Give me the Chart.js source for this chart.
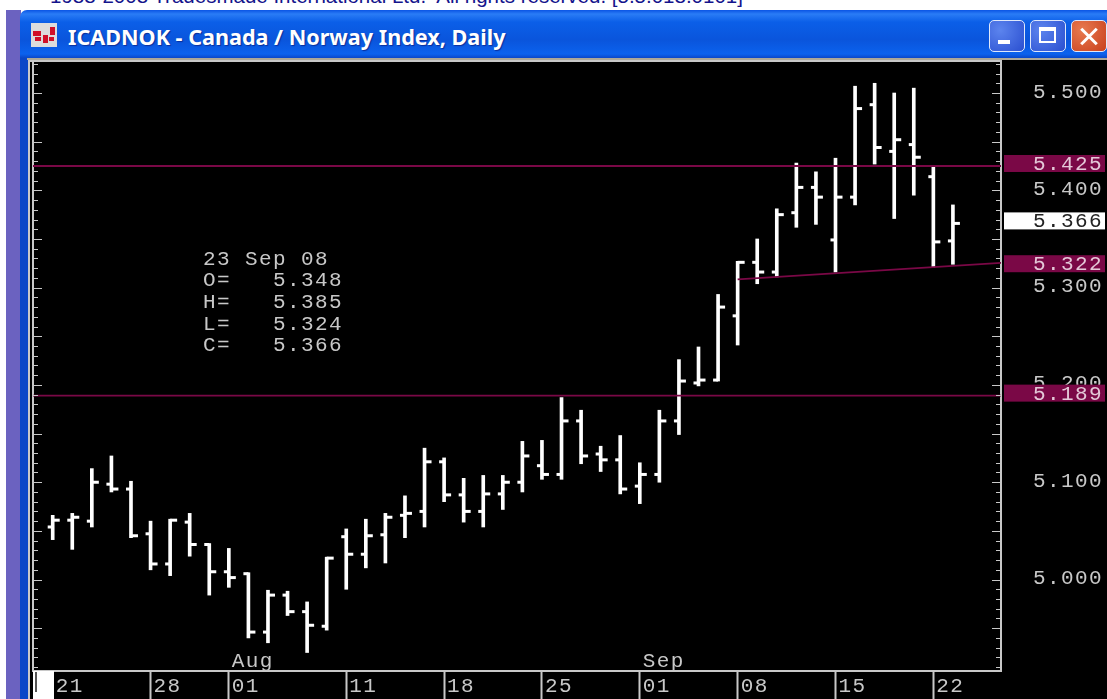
<!DOCTYPE html>
<html>
<head>
<meta charset="utf-8">
<title>ICADNOK - Canada / Norway Index, Daily</title>
<script src="https://cdn.jsdelivr.net/npm/chart.js@4"></script>
<style>
  html, body { margin: 0; padding: 0; background: #fff; width: 1107px; height: 699px; overflow: hidden; }
  div, canvas { position: absolute; }
  #copyright { left: 50px; top: -16px; font: 20.5px "Liberation Sans", sans-serif; color: #14148c; white-space: pre; }
  #strip { left: 6px; top: 10px; width: 15px; height: 689px; background: #6b62c0; }
  #win { left: 20px; top: 10px; width: 1087px; height: 689px; border-radius: 7px 0 0 0;
         background: linear-gradient(#0a54e4 0, #2a7cf6 4px, #0b5fe8 12px, #0a55dc 30px, #0b62ee 44px, #0a47c8 48px, #0a47c8 100%); }
  #edge { left: 27px; top: 58px; width: 1080px; height: 2px; background: #aca899; }
  #frameLeft { left: 28px; top: 60px; width: 2px; height: 639px; background: #c8c8c8; }
  #black { left: 30px; top: 60px; width: 1077px; height: 639px; background: #000; }
  #winTitle { left: 68px; top: 22px; font: bold 21.6px "Noto Sans", sans-serif; color: #fff; white-space: pre;
              text-shadow: 1px 1px 1px #0a2f9c; }
  #icon { left: 31px; top: 23px; width: 26px; height: 24px; background: #dcdcdc; }
  .red { background: #d01028; }
  .btn { top: 20px; height: 30px; border: 1px solid #dfe8fb; border-radius: 5px; background: radial-gradient(circle at 30% 30%, #5c84ee, #2a4fd0); }
  #close { background: radial-gradient(circle at 30% 30%, #e87a50, #c8401c); }
  .glyph { background: #fff; }
  #cursorBox { left: 33px; top: 671px; width: 21px; height: 28px; background: #fff; }
  #cursorBar { left: 35px; top: 672px; width: 2px; height: 20px; background: #555; }
</style>
</head>
<body>
<div id="copyright">1988-2008 Tradesmade International Ltd.  All rights reserved. [5.5.018.0101]</div>
<div id="strip"></div>
<div id="win"></div>
<div id="edge"></div>
<div id="icon">
  <div class="red" style="left:2px;top:8px;width:8px;height:5px"></div>
  <div class="red" style="left:4px;top:14px;width:6px;height:4px"></div>
  <div class="red" style="left:12px;top:12px;width:5px;height:8px"></div>
  <div class="red" style="left:19px;top:4px;width:5px;height:8px"></div>
  <div class="red" style="left:18px;top:14px;width:5px;height:4px"></div>
</div>
<div id="winTitle">ICADNOK - Canada / Norway Index, Daily</div>
<div class="btn" style="left:989px;width:34px"><div class="glyph" style="left:8px;top:19px;width:12px;height:4px"></div></div>
<div class="btn" style="left:1030px;width:34px"><div style="left:8px;top:6px;width:17px;height:16px;border:2px solid #fff;border-top-width:4px;box-sizing:border-box"></div></div>
<div class="btn" id="close" style="left:1071px;width:34px">
  <div class="glyph" style="left:6px;top:14px;width:22px;height:3px;transform:rotate(45deg)"></div>
  <div class="glyph" style="left:6px;top:14px;width:22px;height:3px;transform:rotate(-45deg)"></div>
</div>
<div id="black"></div>
<div id="frameLeft"></div>
<canvas id="chart" width="1077" height="639" style="left:30px;top:60px"></canvas>
<div id="cursorBox"></div>
<div id="cursorBar"></div>

<script>
// Daily bars, 21 Jul to 23 Sep 2008
const opens = [5.054,5.061,5.060,5.098,5.093,5.047,5.016,5.059,5.036,5.008,5.006,4.946,4.984,4.967,4.952,5.044,5.026,5.046,5.066,5.070,5.121,5.087,5.070,5.088,5.100,5.117,5.108,5.163,5.129,5.123,5.096,5.108,5.163,5.202,5.205,5.271,5.326,5.316,5.377,5.403,5.349,5.393,5.488,5.440,5.447,5.414,5.348];
const highs = [5.066,5.068,5.114,5.127,5.101,5.060,5.062,5.068,5.037,5.032,5.007,4.989,4.988,4.977,5.023,5.052,5.062,5.068,5.086,5.135,5.125,5.104,5.107,5.107,5.142,5.143,5.187,5.174,5.137,5.148,5.120,5.174,5.226,5.239,5.293,5.327,5.350,5.381,5.428,5.419,5.433,5.507,5.510,5.500,5.505,5.424,5.385];
const lows = [5.041,5.031,5.054,5.090,5.043,5.010,5.004,5.024,4.984,4.992,4.940,4.935,4.963,4.925,4.948,4.990,5.012,5.017,5.043,5.054,5.080,5.059,5.054,5.072,5.090,5.103,5.103,5.119,5.111,5.088,5.078,5.100,5.149,5.199,5.204,5.241,5.304,5.311,5.362,5.365,5.316,5.385,5.427,5.371,5.395,5.321,5.324];
const closes = [5.061,5.064,5.100,5.093,5.045,5.016,5.061,5.036,5.008,5.002,4.946,4.984,4.967,4.953,5.022,5.026,5.045,5.064,5.068,5.121,5.087,5.070,5.088,5.100,5.127,5.108,5.163,5.127,5.123,5.093,5.108,5.163,5.204,5.205,5.280,5.326,5.316,5.375,5.403,5.393,5.393,5.484,5.444,5.452,5.434,5.347,5.366];

const priceTicks = [5.0, 5.1, 5.2, 5.3, 5.4, 5.5];
const dayTickPos = [0, 5, 9, 15, 20, 25, 30, 35, 40, 45];
const dayTickLabels = ['21', '28', '01', '11', '18', '25', '01', '08', '15', '22'];
const monthPos = [9, 30];
const monthLabels = ['Aug', 'Sep'];

const levels = [5.425, 5.189];
const levelTags = [5.425, 5.322, 5.189];
const lastClose = 5.366;
const trendX = [35, 48.457];
const trendY = [5.3085, 5.3255];

const readoutHead = '23 Sep 08';
const readoutKeys = ['O=', 'H=', 'L=', 'C='];
const readoutVals = ['5.348', '5.385', '5.324', '5.366'];

const xMin = -1.007, xMax = 48.457, yMin = 4.906, yMax = 5.5329;
const MONO = '"Liberation Mono", monospace';
const LIGHT = '#c8c8c8';
const MAROON = '#7a0846';
const PITCH = '1.4px';

// the layout adds room for overflowing labels, this window has a fixed plot box
function noPadding(s) {
  s.paddingTop = s.paddingBottom = s.paddingLeft = s.paddingRight = 0;
}

// the terminal font is wide, canvas letterSpacing gets it to the 14px pitch
const spacing = { id: 'spacing',
  beforeDraw(chart) { chart.ctx.letterSpacing = PITCH; }
};

// inner tick marks on both sides, top frame line, tags and the readout
const decorations = { id: 'decorations',
  afterDraw(chart) {
    const ctx = chart.ctx, y = chart.scales.y, x = chart.scales.x, a = chart.chartArea;
    ctx.save();
    ctx.strokeStyle = LIGHT;
    ctx.lineWidth = 1;
    ctx.beginPath();
    for (let i = 491; i <= 553; i++) {
      const py = Math.round(y.getPixelForValue(i / 100)) + 0.5;
      const len = i % 5 === 0 ? 9 : 5;
      ctx.moveTo(a.left, py); ctx.lineTo(a.left + len, py);
      ctx.moveTo(a.right - len, py); ctx.lineTo(a.right, py);
    }
    ctx.stroke();
    ctx.fillStyle = LIGHT;
    ctx.fillRect(0, a.top - 1, a.right + 1, 2);

    ctx.font = '21px ' + MONO;
    ctx.letterSpacing = PITCH;
    ctx.textBaseline = 'middle';
    ctx.textAlign = 'left';

    monthLabels.forEach((m, i) => {
      ctx.fillText(m, x.getPixelForValue(monthPos[i]) + 3, a.bottom - 10);
    });

    levelTags.forEach(v => {
      const py = y.getPixelForValue(v) - 2.5;
      ctx.fillStyle = MAROON;
      ctx.fillRect(a.right + 3, py - 8.5, 101, 17);
      ctx.fillStyle = '#e4c8d8';
      ctx.fillText(v.toFixed(3), a.right + 32, py + 1);
    });
    const pyLast = y.getPixelForValue(lastClose) - 2.5;
    ctx.fillStyle = '#fff';
    ctx.fillRect(a.right + 3, pyLast - 8.5, 101, 17);
    ctx.fillStyle = '#222';
    ctx.fillText(lastClose.toFixed(3), a.right + 32, pyLast + 1);

    ctx.fillStyle = LIGHT;
    const left = 173, valLeft = 243, top = 199, row = 21.7;
    ctx.fillText(readoutHead, left, top);
    readoutKeys.forEach((k, i) => {
      ctx.fillText(k, left, top + row * (i + 1));
      ctx.fillText(readoutVals[i], valLeft, top + row * (i + 1));
    });
    ctx.restore();
  }
};

const idx = opens.map((_, i) => i);

new Chart(document.getElementById('chart'), {
  type: 'bar',
  data: {
    datasets: [
      { type: 'scatter', showLine: true, order: 0, borderColor: MAROON, borderWidth: 1.8, pointRadius: 0,
        data: [{ x: xMin, y: levels[0] }, { x: xMax, y: levels[0] }] },
      { type: 'scatter', showLine: true, order: 0, borderColor: MAROON, borderWidth: 1.8, pointRadius: 0,
        data: [{ x: xMin, y: levels[1] }, { x: xMax, y: levels[1] }] },
      { type: 'scatter', showLine: true, order: 0, borderColor: MAROON, borderWidth: 1.8, pointRadius: 0,
        data: trendX.map((v, i) => ({ x: v, y: trendY[i] })) },
      // dash point style runs from the point to the right, rotate it for the open tick
      { type: 'scatter', order: 1, pointStyle: 'dash', rotation: 180, radius: 5, borderWidth: 3,
        borderColor: '#fff', backgroundColor: '#fff',
        data: idx.map(i => ({ x: i, y: opens[i] })) },
      { type: 'scatter', order: 1, pointStyle: 'dash', radius: 7, borderWidth: 3,
        borderColor: '#fff', backgroundColor: '#fff',
        data: idx.map(i => ({ x: i, y: closes[i] })) },
      { type: 'bar', order: 2, barThickness: 3, backgroundColor: '#fff', borderWidth: 0,
        data: idx.map(i => ({ x: i, y: [lows[i], highs[i]] })) }
    ]
  },
  options: {
    responsive: false,
    animation: false,
    events: [],
    layout: { autoPadding: false, padding: { top: 1, left: 0, right: 0, bottom: 0 } },
    plugins: { legend: { display: false }, tooltip: { enabled: false }, title: { display: false } },
    scales: {
      x: {
        type: 'linear', min: xMin, max: xMax, offset: false,
        afterBuildTicks(s) { s.ticks = dayTickPos.map(v => ({ value: v })); },
        afterFit(s) { s.height = 28; noPadding(s); },
        grid: { offset: false, drawOnChartArea: false, tickLength: 28, tickColor: LIGHT, tickWidth: 2 },
        border: { color: LIGHT, width: 2 },
        ticks: {
          autoSkip: false, maxRotation: 0, minRotation: 0, padding: -25, labelOffset: 17,
          color: LIGHT, font: { family: MONO, size: 21 },
          callback(v) { return dayTickLabels[dayTickPos.indexOf(v)]; }
        }
      },
      y: {
        position: 'left', min: yMin, max: yMax,
        afterFit(s) { s.width = 3; noPadding(s); },
        grid: { drawOnChartArea: false, drawTicks: false },
        border: { color: LIGHT, width: 2 },
        ticks: { display: false }
      },
      y1: {
        position: 'right', min: yMin, max: yMax,
        afterBuildTicks(s) { s.ticks = priceTicks.map(v => ({ value: v })); },
        afterFit(s) { s.width = 106; noPadding(s); },
        grid: { drawOnChartArea: false, drawTicks: false },
        border: { color: LIGHT, width: 2 },
        ticks: {
          padding: 32, labelOffset: -1, color: LIGHT, font: { family: MONO, size: 21 },
          callback(v) { return v.toFixed(3); }
        }
      }
    }
  },
  plugins: [spacing, decorations]
});
</script>
</body>
</html>
